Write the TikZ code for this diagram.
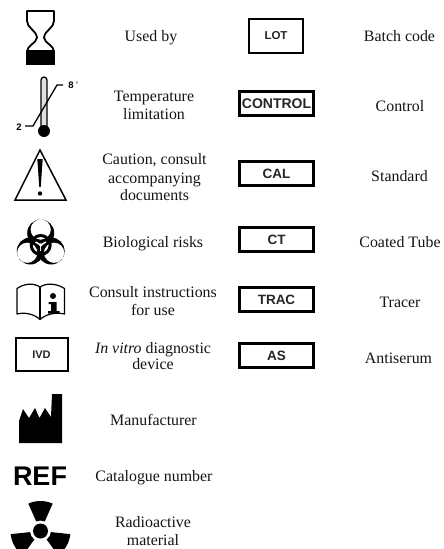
\documentclass[tikz,border=0pt]{standalone}
\usepackage{fontspec}
\setmainfont{Liberation Serif}
\newfontfamily\arialf{Liberation Sans}
\tikzset{
 lab/.style={font=\fontsize{15.9}{18}\selectfont,align=center,text=black!92,inner sep=0pt},
 codebox/.style={draw=black,line width=3pt,fill=white,minimum width=74pt,minimum height=24pt,inner sep=0pt,font=\arialf\bfseries\fontsize{13.5}{13.5}\selectfont,text=black!85},
 thinbox/.style={draw=black,line width=2pt,inner sep=0pt,font=\arialf\bfseries\fontsize{11.5}{11.5}\selectfont,text=black!85}
}
\begin{document}
\begin{tikzpicture}[x=1pt,y=-1pt]
\useasboundingbox (0,0) rectangle (444,549);
% hourglass
\draw[line width=1.8pt,line join=round] (27,11) -- (54,11) -- (54,21) .. controls (54,28) and (45,30) .. (44,37.5) .. controls (45,44) and (54,45) .. (54,52) -- (54,64) -- (27,64) -- (27,52) .. controls (27,45) and (36,44) .. (37,37.5) .. controls (36,30) and (27,28) .. (27,21) -- cycle;
\fill (26,64.8) -- (26,50) -- (55,50) -- (55,64.8) -- cycle;
% thermometer
\draw[line width=1.2pt,fill=black!12] (41,131) -- (41,80) arc[start angle=180,end angle=360,radius=3] -- (47,131);
\fill (44,131) circle[radius=6];
\draw[line width=1.3pt] (25,126) -- (33,126) -- (57,85) -- (63,85);
\node[inner sep=0pt,font=\arialf\bfseries\fontsize{9.5}{9.5}\selectfont] (t8) at (71,85.5) {8};
\node[inner sep=0pt,font=\arialf\fontsize{8}{8}\selectfont,text=black!70] (tdeg) at (77,85) {°};
\node[inner sep=0pt,font=\arialf\bfseries\fontsize{9.5}{9.5}\selectfont] (t2) at (19,127) {2};
% warning
\draw[line width=1.5pt,line join=miter] (40,150) -- (66,200) -- (15,200) -- cycle;
\fill (37.3,159) -- (42.7,159) -- (40.7,187) -- (39.3,187) -- cycle;
\fill (40,193.5) circle[radius=2.2];
% biohazard
\begin{scope}[shift={(40.7,245)}]
\draw[line width=3pt] (0,0) circle[radius=9.5];
\foreach \a in {270,30,150}{
 \fill[even odd rule] (\a:12) circle[radius=13.5] (\a:15.5) circle[radius=10.2];
 \draw[white,line width=2pt] (\a:21) -- (\a:28);
}
\foreach \a in {90,210,330}{
 \draw[white,line width=1.5pt] (0,0) -- (\a:6);
}
\fill[white] (0,0) circle[radius=1.8];
\end{scope}
% book
\draw[line width=1.2pt,line join=round] (40,287) .. controls (34,283) and (25,283) .. (17,288.5) -- (17,314) .. controls (25,312) and (34,314) .. (40,319.5) .. controls (46,314) and (56,312) .. (64.5,314) -- (64.5,288.5) .. controls (56,283) and (46,283) .. (40,287) -- cycle;
\draw[line width=1.2pt] (40,287) -- (40,319.5);
\fill (53,296) circle[radius=3];
\fill (48.5,302) -- (56.5,302) -- (56.5,311) -- (59.5,311) -- (59.5,313.5) -- (48,313.5) -- (48,311) -- (51,311) -- (51,304) -- (48.5,304) -- cycle;
% IVD
\node[thinbox,minimum width=52pt,minimum height=33pt,font=\arialf\bfseries\fontsize{11}{11}\selectfont] (ivd) at (41.5,354.5) {IVD};
% factory
\fill (19,443) -- (19,421) -- (23,409) -- (29,418) -- (35,408) -- (39.5,418) -- (45,408) -- (51,417) -- (52,394) -- (62,394) -- (62,443) -- cycle;
% REF
\node[inner sep=0pt,font=\arialf\bfseries\fontsize{27}{27}\selectfont] (ref) at (40,476) {REF};
% radiation
\begin{scope}[shift={(40.5,531)}]
\fill (0,0) circle[radius=7.5];
\foreach \a in {270,30,150}{
 \fill (\a-24:10.5) -- (\a-24:30) arc[start angle=\a-24,end angle=\a+24,radius=30] -- (\a+24:10.5) arc[start angle=\a+24,end angle=\a-24,radius=10.5] -- cycle;
}
\end{scope}
% code boxes
\node[thinbox,minimum width=54pt,minimum height=34pt] (lot) at (276,36) {LOT};
\node[codebox,font=\arialf\bfseries\fontsize{14}{14}\selectfont] (control) at (276.5,103.5) {CONTROL};
\node[codebox] (cal) at (276.5,173.5) {CAL};
\node[codebox] (ct) at (276.5,239.5) {CT};
\node[codebox] (trac) at (276.5,299.5) {TRAC};
\node[codebox] (as) at (276.5,355.5) {AS};
% labels
\node[lab] (l1) at (151,38) {Used by};
\node[lab] (l2) at (154,105) {Temperature\\limitation};
\node[lab] (l3) at (154.5,177) {Caution, consult\\[1.5pt]accompanying\\[-1pt]documents};
\node[lab] (l4) at (153,243.5) {Biological risks};
\node[lab] (l5) at (153,301) {Consult instructions\\for use};
\node[lab] (l6) at (153,356) {\textit{In vitro} diagnostic\\[-2pt]device};
\node[lab] (l7) at (153.5,420) {Manufacturer};
\node[lab] (l8) at (154,477.5) {Catalogue number};
\node[lab] (l9) at (153,531) {Radioactive\\material};
\node[lab] (r1) at (399.5,36) {Batch code};
\node[lab] (r2) at (400,106) {Control};
\node[lab] (r3) at (399.5,176) {Standard};
\node[lab] (r4) at (400,242) {Coated Tube};
\node[lab] (r5) at (400,302) {Tracer};
\node[lab] (r6) at (398.5,358) {Antiserum};
\end{tikzpicture}
\end{document}
